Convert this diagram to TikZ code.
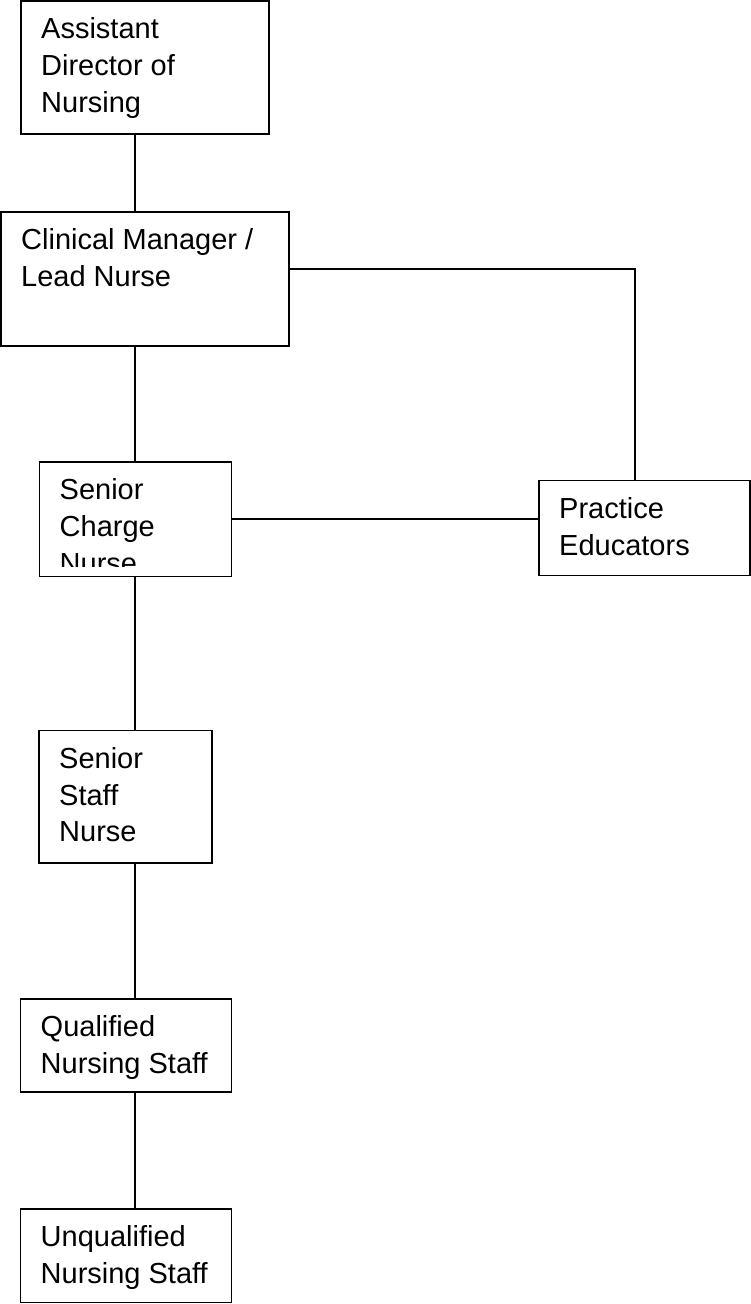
\documentclass[tikz,border=0pt]{standalone}
\usepackage{fontspec}
\setmainfont{Liberation Sans}
\newcommand{\topstrut}{\rule{0pt}{37.5pt}}
\tikzset{
  post/.style={draw,rectangle,line width=1.8pt,inner sep=0pt,outer sep=0pt,anchor=north west},
  postlab/.style={font=\fontsize{29}{36.8}\selectfont,align=left,inner sep=0pt,anchor=north west},
  link/.style={line width=1.8pt},
}

\begin{document}
\begin{tikzpicture}[x=1pt,y=-1pt]
  \useasboundingbox (0,0) rectangle (751,1304);
  \coordinate (spine) at (135,0);
  \coordinate (bend) at (635,269);
  \node[post,minimum width=248,minimum height=133] (adn) at (21,1) {};
  \node[post,minimum width=288,minimum height=134] (cm) at (1,212) {};
  \node[post,minimum width=192,minimum height=114.5] (charge) at (39.5,462) {};
  \node[post,minimum width=211,minimum height=95] (pe) at (539,480.5) {};
  \node[post,minimum width=173,minimum height=132.5] (ssn) at (39,730.5) {};
  \node[post,minimum width=211,minimum height=93] (qns) at (20.5,999) {};
  \node[post,minimum width=211,minimum height=93.5] (uns) at (20.5,1209) {};
  \node[postlab] (adn-t) at ([xshift=20pt]adn.north west) {\topstrut Assistant\\Director of\\Nursing};
  \node[postlab] (cm-t) at ([xshift=20pt]cm.north west) {\topstrut Clinical Manager /\\Lead Nurse};
  \begin{scope}
    \clip (charge.north west) rectangle ([yshift=10.5pt]charge.south east);
    \node[postlab] (charge-t) at ([xshift=20pt]charge.north west) {\topstrut Senior\\Charge\\Nurse};
  \end{scope}
  \node[postlab] (pe-t) at ([xshift=20pt]pe.north west) {\topstrut Practice\\Educators};
  \node[postlab] (ssn-t) at ([xshift=20pt]ssn.north west) {\topstrut Senior\\Staff\\Nurse};
  \node[postlab] (qns-t) at ([xshift=20pt]qns.north west) {\topstrut Qualified\\Nursing Staff};
  \node[postlab] (uns-t) at ([xshift=20pt]uns.north west) {\topstrut Unqualified\\Nursing Staff};
  \draw[link] (adn.south -| spine) -- (cm.north -| spine);
  \draw[link] (cm.south -| spine) -- (charge.north -| spine);
  \draw[link] (bend -| cm.east) -- (bend) -- (pe.north -| bend);
  \draw[link] (charge.east) -- (charge.east -| pe.west);
  \draw[link] (charge.south -| spine) -- (ssn.north -| spine);
  \draw[link] (ssn.south -| spine) -- (qns.north -| spine);
  \draw[link] (qns.south -| spine) -- (uns.north -| spine);
\end{tikzpicture}
\end{document}
